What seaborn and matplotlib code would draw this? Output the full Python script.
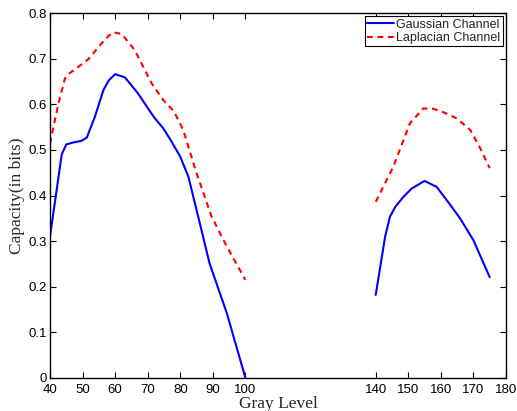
import numpy as np
import pandas as pd
import matplotlib
matplotlib.use("Agg")
import matplotlib.pyplot as plt
import seaborn as sns

# Gaussian channel, two segments
g1_x = [40, 41, 43.6, 45, 47, 49.7, 51.3, 53.8, 56.4, 58, 60, 63, 67, 70, 72, 74.8, 77, 80, 82.5, 86, 89, 94.3, 100]
g1_y = [0.31, 0.36, 0.49, 0.512, 0.516, 0.52, 0.527, 0.573, 0.631, 0.652, 0.666, 0.659, 0.624, 0.592, 0.571, 0.547, 0.522, 0.485, 0.441, 0.339, 0.251, 0.142, 0.0]
g2_x = [140, 142.9, 144.4, 146, 148.5, 151, 155, 158.7, 162, 165.9, 170, 175]
g2_y = [0.182, 0.31, 0.354, 0.375, 0.397, 0.415, 0.432, 0.419, 0.388, 0.35, 0.302, 0.221]

# Laplacian channel, two segments
l1_x = [40, 42.6, 44.6, 46, 48.7, 51.8, 55.9, 58, 59.4, 62, 66, 71.2, 74.8, 78, 80.9, 85, 89.6, 94.3, 100]
l1_y = [0.514, 0.602, 0.657, 0.668, 0.682, 0.699, 0.734, 0.75, 0.758, 0.754, 0.719, 0.646, 0.609, 0.585, 0.544, 0.449, 0.354, 0.288, 0.215]
l2_x = [140, 145.4, 150.5, 154.6, 157.7, 161, 164.9, 169, 172, 175]
l2_y = [0.386, 0.463, 0.558, 0.591, 0.59, 0.582, 0.569, 0.544, 0.505, 0.46]

xticks = [40, 50, 60, 70, 80, 90, 100, 140, 150, 160, 170, 180]
yticks = [0, 0.1, 0.2, 0.3, 0.4, 0.5, 0.6, 0.7, 0.8]
names = ["Gaussian Channel", "Laplacian Channel"]

rows = []
for name, seg, xs, ys in [(names[0], "g1", g1_x, g1_y), (names[0], "g2", g2_x, g2_y),
                          (names[1], "l1", l1_x, l1_y), (names[1], "l2", l2_x, l2_y)]:
    for x, y in zip(xs, ys):
        rows.append({"Gray Level": x, "Capacity": y, "Channel": name, "seg": seg})
df = pd.DataFrame(rows)

sns.set_style("ticks")
plt.rcParams['font.family'] = ['Liberation Sans', 'DejaVu Sans']

fig = plt.figure(figsize=(5.17, 4.11), dpi=100)
ax = fig.add_axes([0.0967, 0.0803, 0.882, 0.888])

sns.lineplot(data=df, x="Gray Level", y="Capacity", hue="Channel", style="Channel",
             units="seg", estimator=None, sort=False,
             palette={names[0]: "#0000ff", names[1]: "#ff0000"},
             dashes={names[0]: "", names[1]: (2.8, 2.2)},
             linewidth=1.5, ax=ax)

ax.set_xlim(40, 180)
ax.set_ylim(0, 0.8)
ax.set_xticks(xticks)
ax.set_xticklabels([str(t) for t in xticks])
ax.set_yticks(yticks)
ax.set_yticklabels(["0"] + [f"{t:.1f}" for t in yticks[1:]])
ax.tick_params(direction="in", top=True, right=True, length=4, width=0.8,
               labelsize=9.5, colors="black")
ax.tick_params(axis="x", pad=4.5)
ax.tick_params(axis="y", pad=2)
for s in ax.spines.values():
    s.set_visible(True)
    s.set_linewidth(1.0)
    s.set_color("black")

ax.set_xlabel("Gray Level", family=["Liberation Serif"], fontsize=12.5, labelpad=0)
ax.set_ylabel("Capacity(in bits)", family=["Liberation Serif"], fontsize=12.5, labelpad=3)

leg = ax.legend(loc="upper right", fontsize=9, frameon=True, fancybox=False,
                borderpad=0.2, handlelength=2.1, handletextpad=0.2,
                labelspacing=0.1, borderaxespad=0.25)
leg.get_frame().set_edgecolor("black")
leg.get_frame().set_linewidth(0.8)
leg.get_frame().set_alpha(1)
leg.set_title(None)

fig.savefig("out.png", dpi=100)
